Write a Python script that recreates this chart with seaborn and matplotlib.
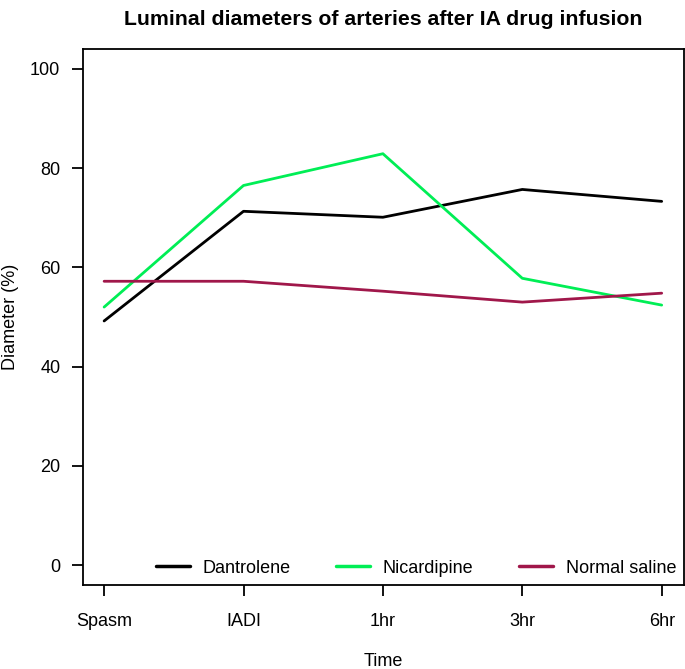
import matplotlib
matplotlib.use("Agg")
import matplotlib.pyplot as plt
import seaborn as sns
import pandas as pd
from matplotlib.lines import Line2D

times = ["Spasm", "IADI", "1hr", "3hr", "6hr"]
dantrolene = [49.2, 71.3, 70.1, 75.7, 73.3]
nicardipine = [52.0, 76.5, 82.9, 57.8, 52.4]
saline = [57.2, 57.2, 55.2, 53.0, 54.8]
groups = ["Dantrolene", "Nicardipine", "Normal saline"]
colors = ["#000000", "#00EE55", "#A0174A"]
y_ticks = [0, 20, 40, 60, 80, 100]

rows = []
for g, vals in zip(groups, [dantrolene, nicardipine, saline]):
    for i, (t, v) in enumerate(zip(times, vals)):
        rows.append({"idx": i, "Time": t, "Diameter": v, "Group": g})
df = pd.DataFrame(rows)

sns.set_style("white")
plt.rcParams['font.family'] = ['Liberation Sans', 'DejaVu Sans']
plt.rcParams['text.color'] = 'black'
plt.rcParams['axes.labelcolor'] = 'black'
plt.rcParams['xtick.color'] = 'black'
plt.rcParams['ytick.color'] = 'black'

FS = 13
fig = plt.figure(figsize=(6.85, 6.69), dpi=100)
ax = fig.add_axes([82.5/685, 1-585/669, (684-82.5)/685, (585-49)/669])
sns.lineplot(data=df, x="idx", y="Diameter", hue="Group", hue_order=groups,
             palette=colors, linewidth=2, ax=ax, legend=False)

ax.set_xlim(-0.155, 4.16)
ax.set_ylim(-4, 104)
ax.set_xticks(range(len(times)))
ax.set_xticklabels(times, fontsize=FS)
ax.set_yticks(y_ticks)
ax.set_yticklabels([str(v) for v in y_ticks], fontsize=FS)
ax.tick_params(axis='both', direction='out', length=8, width=1.3,
               bottom=True, left=True)
ax.tick_params(axis='x', pad=12)
ax.tick_params(axis='y', pad=8)
for s in ax.spines.values():
    s.set_color('black')
    s.set_linewidth(1.3)
ax.set_xlabel("Time", fontsize=FS, labelpad=17)
ax.set_ylabel("Diameter (%)", fontsize=FS, labelpad=8)
ax.set_title("Luminal diameters of arteries after IA drug infusion", fontsize=15.3,
             fontweight='bold', pad=17)

handles = [Line2D([0], [0], color=c, lw=2.5) for c in colors]
ax.legend(handles, groups, loc='center right', ncol=3, frameon=False, fontsize=FS,
          bbox_to_anchor=(0.987, 3.4/108), borderpad=0, borderaxespad=0,
          handlelength=1.9, columnspacing=2.5, handletextpad=0.7)

fig.savefig("out.png", dpi=100)
